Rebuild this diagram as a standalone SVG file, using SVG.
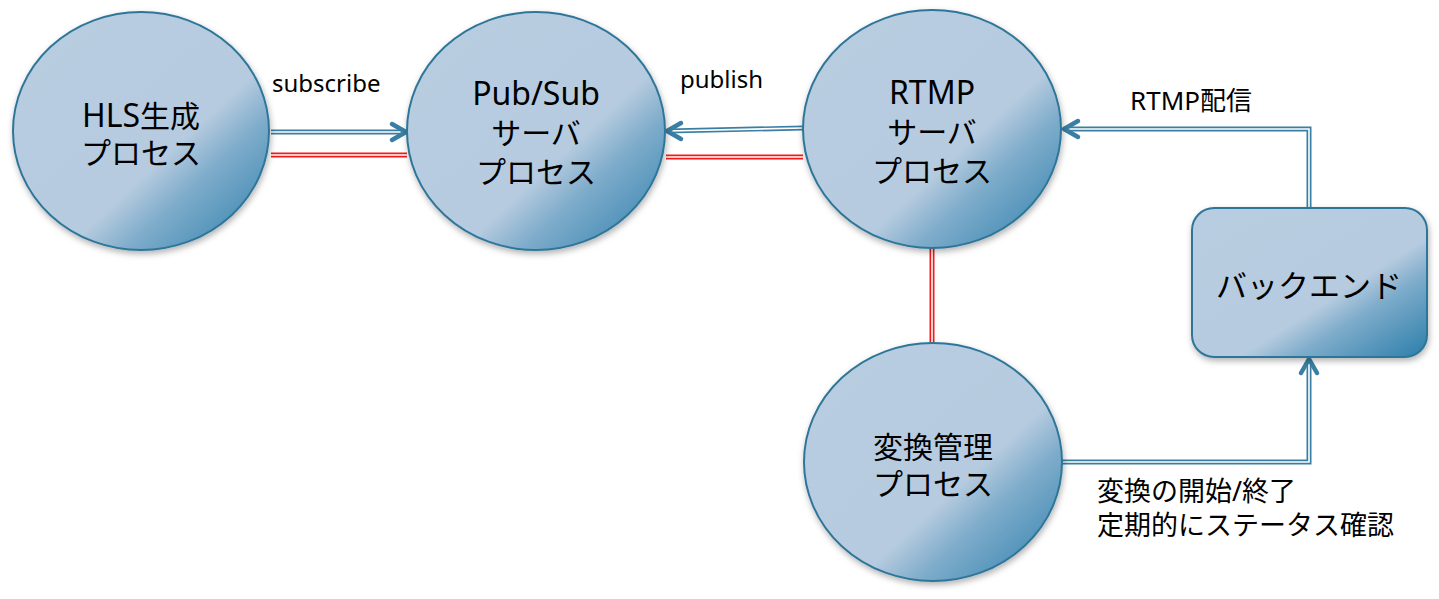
<svg xmlns="http://www.w3.org/2000/svg" width="1439" height="599" viewBox="0 0 1439 599">
<style>
.node{fill:url(#g);stroke:#2f7699;stroke-width:2;filter:url(#sh)}
.t{font-family:"Noto Sans","Noto Sans CJK JP",sans-serif;fill:#000;text-anchor:middle;font-size:30px}
.lat{font-size:32px}
.lb{font-family:"Noto Sans","Noto Sans CJK JP",sans-serif;fill:#000}
.bo{stroke:#3a7fa3;stroke-width:5;fill:none}
.bi{stroke:#fff;stroke-width:1.6;fill:none}
.ro{stroke:#f01c1c;stroke-width:5;fill:none}
.ri{stroke:#fff;stroke-width:1.6;fill:none}
.ah{stroke:#3a7fa3;stroke-width:4.5;fill:none;stroke-linecap:round;stroke-linejoin:round}
</style>
<defs>
<linearGradient id="g" x1="0" y1="0" x2="1" y2="1">
<stop offset="0" stop-color="#b8cde0"/>
<stop offset="0.6" stop-color="#b6cbdf"/>
<stop offset="0.72" stop-color="#7eaccb"/>
<stop offset="1" stop-color="#2b7eaa"/>
</linearGradient>
<filter id="sh" x="-10%" y="-10%" width="120%" height="125%">
<feDropShadow dx="1" dy="3" stdDeviation="3" flood-color="#000" flood-opacity="0.3"/>
</filter>
</defs>
<g id="connectors">
<path class="bo" d="M271 132 H405"/><path class="bi" d="M271 132 H405"/>
<path class="ah" d="M392 124 L406 132 L392 140"/>
<path class="ro" d="M271 155 H407"/><path class="ri" d="M271 155 H407"/>
<path class="bo" d="M803 128 L668 131"/><path class="bi" d="M803 128 L668 131"/>
<path class="ah" d="M681 123 L667 131 L681 139"/>
<path class="ro" d="M666 157 H803"/><path class="ri" d="M666 157 H803"/>
<path class="ro" d="M932 248 V343"/><path class="ri" d="M932 248 V343"/>
<path class="bo" d="M1309 208 V129 H1065"/><path class="bi" d="M1309 208 V129 H1065"/>
<path class="ah" d="M1078 121 L1064 129 L1078 137"/>
<path class="bo" d="M1062 462 H1309 V360"/><path class="bi" d="M1062 462 H1309 V360"/>
<path class="ah" d="M1301 373 L1309 359 L1317 373"/>
</g>
<g id="hls">
<ellipse class="node" cx="141" cy="131" rx="128" ry="119"/>
<text class="t" x="141" y="127"><tspan class="lat">HLS</tspan>生成</text>
<text class="t" x="141" y="164">プロセス</text>
</g>
<g id="pubsub">
<ellipse class="node" cx="536" cy="131" rx="129" ry="119"/>
<text class="t lat" x="536" y="105">Pub/Sub</text>
<text class="t" x="536" y="144">サーバ</text>
<text class="t" x="536" y="183">プロセス</text>
</g>
<g id="rtmp">
<ellipse class="node" cx="932" cy="129" rx="129" ry="119"/>
<text class="t lat" x="932" y="104">RTMP</text>
<text class="t" x="932" y="143">サーバ</text>
<text class="t" x="932" y="182">プロセス</text>
</g>
<g id="henkan">
<ellipse class="node" cx="933" cy="462" rx="129" ry="119"/>
<text class="t" x="933" y="458">変換管理</text>
<text class="t" x="933" y="495">プロセス</text>
</g>
<g id="backend">
<rect class="node" x="1192" y="208" width="235" height="149" rx="22"/>
<text class="t" font-size="31" x="1309" y="297" style="font-size:31px">バックエンド</text>
</g>
<g id="labels">
<text class="lb" font-size="24" x="272" y="92">subscribe</text>
<text class="lb" font-size="24" x="680" y="88">publish</text>
<text class="lb" font-size="26" x="1130" y="110">RTMP配信</text>
<text class="lb" font-size="27" x="1097" y="501">変換の開始/終了</text>
<text class="lb" font-size="27" x="1097" y="535">定期的にステータス確認</text>
</g>
</svg>
